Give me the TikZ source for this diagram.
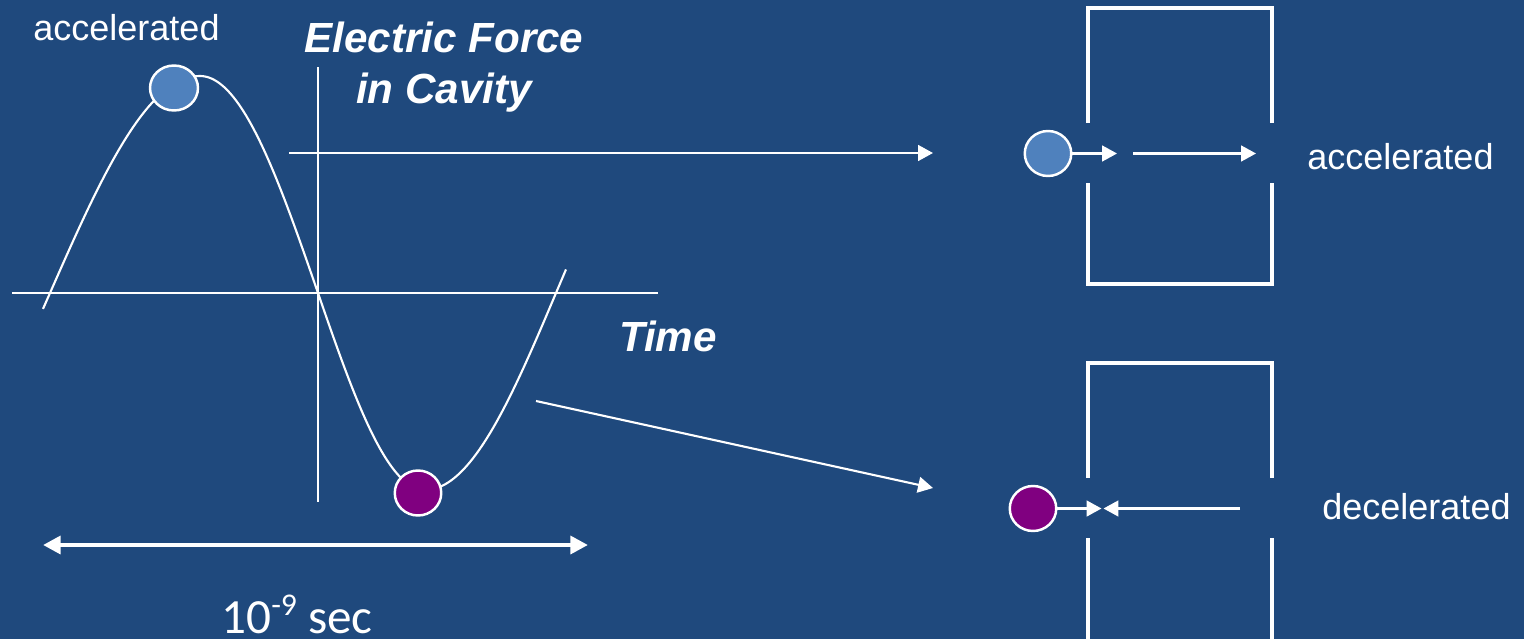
\documentclass[tikz,border=0pt]{standalone}
\usepackage{fontspec}
\setmainfont{Liberation Sans}
\newfontfamily\calfont{Carlito}
\usetikzlibrary{arrows.meta,shapes.geometric}
\definecolor{bgblue}{RGB}{31,73,125}
\definecolor{ballblue}{RGB}{79,129,189}
\definecolor{ballpurple}{RGB}{128,0,128}
\begin{document}
\begin{tikzpicture}[x=0.02cm,y=-0.02cm,
  wire/.style={draw=white, line width=1.2pt},
  axisline/.style={draw=white, line width=1.7pt},
  wall/.style={draw=white, line width=2pt, line join=miter},
  curveline/.style={draw=white, line width=1.2pt},
  ball/.style={ellipse, draw=white, line width=1.4pt, inner sep=0pt},
  lab/.style={text=white, font=\fontsize{20.5}{24}\selectfont, inner sep=0pt},
  blab/.style={text=white, font=\fontsize{24}{29}\selectfont\bfseries\itshape, inner sep=0pt},
  arr/.style={wire, -{Triangle[length=8.5pt,width=9pt]}},
  dblarr/.style={draw=white, line width=2.8pt, {Triangle[length=10pt,width=10pt]}-{Triangle[length=10pt,width=10pt]}},
]
% background
\fill[bgblue] (0,0) rectangle (1524,639);
\useasboundingbox (0,0) rectangle (1524,639);

% axes
\draw[axisline] (318,67) -- (318,502);
\draw[axisline] (12,293) -- (658,293);

% sine-like curve
\draw[curveline] plot[domain=43:200, samples=60, smooth] (\x, {293-217*sin(90*(\x-50)/150)})
  -- plot[domain=200:318, samples=50, smooth] (\x, {293-217*cos(90*(\x-200)/118)})
  -- plot[domain=318:425, samples=50, smooth] (\x, {293+197*sin(90*(\x-318)/107)})
  -- plot[domain=425:566, samples=60, smooth] (\x, {293+197*cos(90*(\x-425)/131)});

% balls on the curve
\node[ball, fill=ballblue, minimum width=0.96cm, minimum height=0.9cm] (ballA) at (174,88) {};
\node[ball, fill=ballpurple, minimum width=0.93cm, minimum height=0.9cm] (ballB) at (418,493) {};

% labels left
\node[lab, anchor=base west] (accL) at (33,40) {accelerated};
\node[blab, anchor=base] (title1) at (444,52) {Electric Force};
\node[blab, anchor=base] (title2) at (444,103) {in Cavity};
\node[blab, anchor=base] (time) at (668,351) {Time};

% period arrow
\coordinate (pL) at (43,545);
\coordinate (pR) at (588,545);
\draw[dblarr] (pL) -- (pR);
\node[text=white, inner sep=0pt, anchor=base, font=\calfont\fontsize{28}{32}\selectfont] (period) at (297,633)
  {10\raisebox{0.36em}{\fontsize{18}{20}\selectfont -9} sec};

% long arrows
\coordinate (t1) at (289,153);
\coordinate (t2) at (933,153);
\draw[arr] (t1) -- (t2);
\coordinate (u1) at (536,401);
\coordinate (u2) at (933,488);
\draw[arr] (u1) -- (u2);

% top cavity
\draw[wall] (1088,123) -- (1088,8) -- (1272,8) -- (1272,123);
\draw[wall] (1088,183) -- (1088,284) -- (1272,284) -- (1272,183);
% bottom cavity
\draw[wall] (1088,478) -- (1088,363) -- (1272,363) -- (1272,478);
\draw[wall] (1088,538) -- (1088,645);
\draw[wall] (1272,538) -- (1272,645);

% top cavity particle
\node[ball, fill=ballblue, minimum width=0.93cm, minimum height=0.9cm] (ballC) at (1048,153.5) {};
\coordinate (c1) at (1117,153.5);
\coordinate (c2) at (1133,153.5);
\coordinate (c3) at (1256,153.5);
\draw[arr] (ballC.east) -- (c1);
\draw[arr] (c2) -- (c3);
\node[lab, anchor=base west] (accR) at (1307,169) {accelerated};

% bottom cavity particle
\node[ball, fill=ballpurple, minimum width=0.93cm, minimum height=0.9cm] (ballD) at (1033,508.5) {};
\coordinate (d1) at (1101.5,508.5);
\coordinate (d2) at (1240,508.5);
\coordinate (d3) at (1103.5,508.5);
\draw[arr] (ballD.east) -- (d1);
\draw[arr] (d2) -- (d3);
\node[lab, anchor=base west] (decR) at (1322,519) {decelerated};
\end{tikzpicture}
\end{document}
